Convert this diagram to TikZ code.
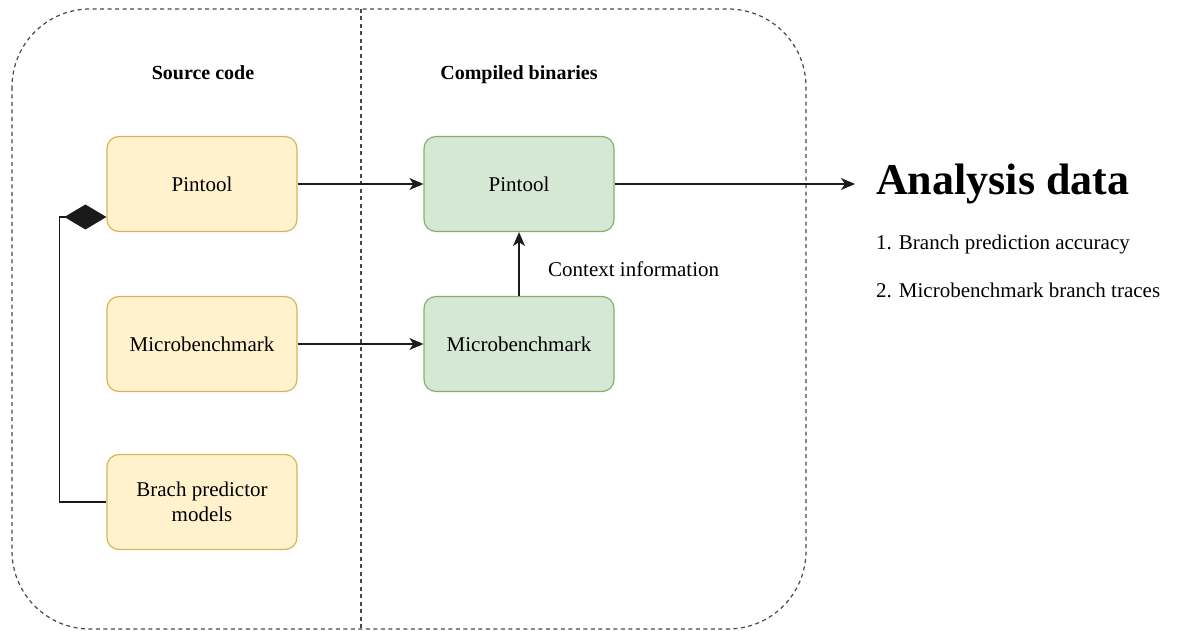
\documentclass[tikz,border=0pt]{standalone}
\usepackage{fontspec}
\setmainfont{Liberation Serif}
\usetikzlibrary{arrows.meta,positioning,calc}
\definecolor{yfill}{HTML}{FFF2CC}
\definecolor{ydraw}{HTML}{D6B656}
\definecolor{gfill}{HTML}{D5E8D4}
\definecolor{gdraw}{HTML}{82B366}
\definecolor{lineclr}{HTML}{1A1A1A}
\tikzset{
  boxbase/.style={rounded corners=12pt, minimum width=190pt, minimum height=95pt, line width=1.2pt, align=center, font=\fontsize{21}{25}\selectfont, inner sep=2pt},
  ybox/.style={boxbase, fill=yfill, draw=ydraw},
  gbox/.style={boxbase, fill=gfill, draw=gdraw},
  conn/.style={draw=lineclr, line width=1.4pt, -{Stealth[length=14pt,width=12pt,inset=4pt]}},
  dashline/.style={draw=lineclr!80, line width=1.2pt, dash pattern=on 4pt off 3.5pt},
  header/.style={font=\bfseries\fontsize{20}{24}\selectfont, anchor=base},
  plain/.style={font=\fontsize{21}{25}\selectfont, inner sep=0pt, anchor=west},
}
\begin{document}
\begin{tikzpicture}[x=1pt,y=-1pt]
\useasboundingbox (0,0) rectangle (1189,631);
% outer dashed container
\draw[dashline, rounded corners=78pt] (12,9) rectangle (806,629);
\draw[dashline] (361,9) -- (361,629);
% headers
\node[header] (hsrc) at (203,80) {Source code};
\node[header] (hbin) at (519,80) {Compiled binaries};
% boxes
\node[ybox] (p1) at (202,184) {Pintool};
\node[ybox] (m1) at (202,344) {Microbenchmark};
\node[ybox] (bp) at (202,502) {Brach predictor\\models};
\node[gbox] (p2) at (519,184) {Pintool};
\node[gbox] (m2) at (519,344) {Microbenchmark};
% connectors
\draw[conn] (p1.east) -- (p2.west);
\draw[conn] (m1.east) -- (m2.west);
\draw[conn] (m2.north) -- (p2.south);
\node[plain] (ctx) at (548,269) {Context information};
\node[font=\bfseries\fontsize{44}{50}\selectfont, anchor=west, inner xsep=21pt, inner ysep=0pt] (ad) at (855,184) {Analysis data};
\draw[conn] (p2.east) -- (ad.west);
\node[plain] (l1) at (876,244) {1. Branch prediction accuracy};
\node[plain] (l2) at (876,290) {2. Microbenchmark branch traces};
% composition connector with diamond
\draw[draw=lineclr, line width=1.4pt, -{Diamond[length=42pt,width=25pt]}] (bp.west) -- ++(-47,0) |- ([yshift=-33pt]p1.west);
\end{tikzpicture}
\end{document}
